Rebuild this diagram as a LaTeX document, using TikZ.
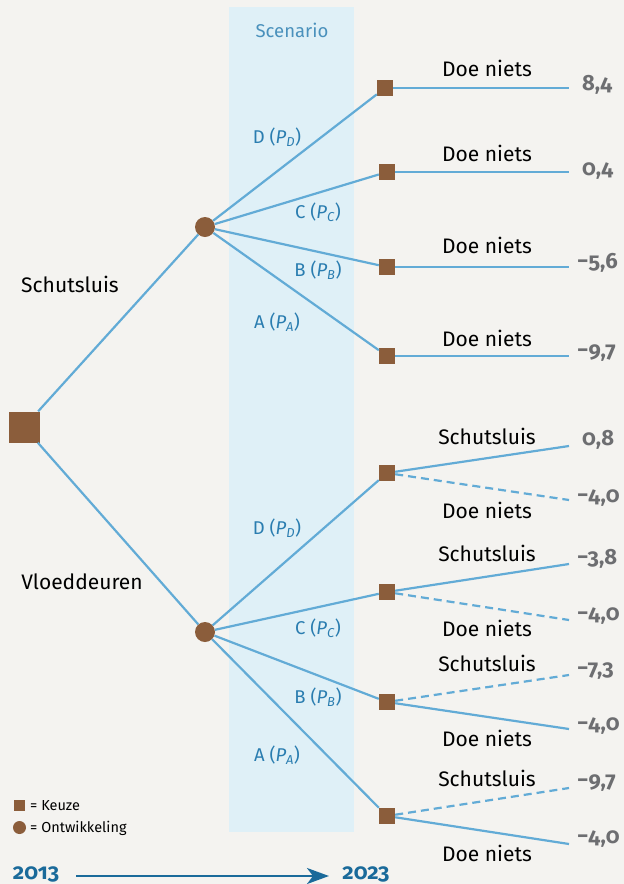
\documentclass[tikz,border=0pt]{standalone}
\usepackage{fontspec}
\newfontfamily\numfont[Numbers=OldStyle]{Fira Sans}
\newfontfamily\txtf{Fira Sans}
\usetikzlibrary{arrows.meta}
\definecolor{bgc}{HTML}{F4F3F0}
\definecolor{bandc}{HTML}{DFF0F7}
\definecolor{linec}{HTML}{62ABD6}
\definecolor{brownc}{HTML}{8B5D3B}
\definecolor{scenc}{HTML}{2A7DB0}
\definecolor{valc}{HTML}{6D6E71}
\definecolor{yearc}{HTML}{1A6A9A}
\newcommand{\onum}[1]{{\fontsize{22}{24}\selectfont\numfont\bfseries #1}}
\tikzset{
  keuze/.style={rectangle, fill=brownc, minimum size=16pt, inner sep=0pt},
  ontw/.style={circle, fill=brownc, minimum size=20pt, inner sep=0pt},
  branch/.style={draw=linec, line width=2.2pt},
  dashbranch/.style={branch, dash pattern=on 8pt off 5pt},
  opt/.style={font=\txtf\fontsize{21}{24}\selectfont, text=black, inner sep=0pt},
  val/.style={text=valc, anchor=base west, inner sep=0pt},
  scen/.style={font=\txtf\fontsize{18.5}{21}\selectfont, text=scenc, inner sep=0pt},
  legtext/.style={font=\txtf\fontsize{14.5}{17}\selectfont, text=black, anchor=west, inner sep=0pt},
  year/.style={text=yearc, inner sep=0pt}
}
\newcommand{\scl}[1]{#1~({\itshape P}\textsubscript{\itshape #1})}
\begin{document}
\begin{tikzpicture}[x=1pt, y=-1pt]
\fill[bgc] (0,0) rectangle (624,884);
\useasboundingbox (0,0) rectangle (624,884);
\fill[bandc] (229,7) rectangle (354,832);
\node[scen, text=scenc!85] (scenario) at (292,30) {Scenario};

% nodes
\node[keuze, minimum size=31pt] (root) at (24,427) {};
\node[ontw] (c1) at (205,227) {};
\node[ontw] (c2) at (205,632) {};

\node[keuze] (k1) at (385,88) {};
\node[keuze] (k2) at (387,172) {};
\node[keuze] (k3) at (387,267) {};
\node[keuze] (k4) at (387,356) {};
\node[keuze] (k5) at (387,473) {};
\node[keuze] (k6) at (387,592) {};
\node[keuze] (k7) at (387,702) {};
\node[keuze] (k8) at (387,816) {};

\coordinate (e1) at (569,88);
\coordinate (e2) at (569,172);
\coordinate (e3) at (569,267);
\coordinate (e4) at (569,356);
\coordinate (e5a) at (569,446);
\coordinate (e5b) at (569,500);
\coordinate (e6a) at (569,564);
\coordinate (e6b) at (569,620);
\coordinate (e7a) at (569,675);
\coordinate (e7b) at (569,729);
\coordinate (e8a) at (569,788);
\coordinate (e8b) at (569,844);

% connectors
\draw[branch] (root) -- (c1);
\draw[branch] (root) -- (c2);
\foreach \k in {k1,k2,k3,k4} \draw[branch] (c1) -- (\k);
\foreach \k in {k5,k6,k7,k8} \draw[branch] (c2) -- (\k);
\draw[branch] (k1) -- (e1);
\draw[branch] (k2) -- (e2);
\draw[branch] (k3) -- (e3);
\draw[branch] (k4) -- (e4);
\draw[branch] (k5) -- (e5a);
\draw[dashbranch] (k5) -- (e5b);
\draw[branch] (k6) -- (e6a);
\draw[dashbranch] (k6) -- (e6b);
\draw[dashbranch] (k7) -- (e7a);
\draw[branch] (k7) -- (e7b);
\draw[dashbranch] (k8) -- (e8a);
\draw[branch] (k8) -- (e8b);

% left labels
\node[opt] (lschut) at (70,284) {Schutsluis};
\node[opt] (lvloed) at (82,582) {Vloeddeuren};

% scenario labels
\node[scen] (sd1) at (277,137) {\scl{D}};
\node[scen] (sc1) at (318,212) {\scl{C}};
\node[scen] (sb1) at (318,270) {\scl{B}};
\node[scen] (sa1) at (277,322) {\scl{A}};
\node[scen] (sd2) at (277,528) {\scl{D}};
\node[scen] (sc2) at (318,628) {\scl{C}};
\node[scen] (sb2) at (318,697) {\scl{B}};
\node[scen] (sa2) at (277,755) {\scl{A}};

% option labels
\node[opt] (o1) at (487,68) {Doe niets};
\node[opt] (o2) at (487,153) {Doe niets};
\node[opt] (o3) at (487,245) {Doe niets};
\node[opt] (o4) at (487,338) {Doe niets};
\node[opt] (o5a) at (487,436) {Schutsluis};
\node[opt] (o5b) at (487,510) {Doe niets};
\node[opt] (o6a) at (487,553) {Schutsluis};
\node[opt] (o6b) at (487,628) {Doe niets};
\node[opt] (o7a) at (487,663) {Schutsluis};
\node[opt] (o7b) at (487,738) {Doe niets};
\node[opt] (o8a) at (487,778) {Schutsluis};
\node[opt] (o8b) at (487,853) {Doe niets};

% values
\node[val] (v1) at (582,90) {\onum{8,4}};
\node[val] (v2) at (582,175) {\onum{0,4}};
\node[val] (v3) at (577,268) {\onum{−5,6}};
\node[val] (v4) at (577,357) {\onum{−9,7}};
\node[val] (v5a) at (582,445) {\onum{0,8}};
\node[val] (v5b) at (577,502) {\onum{−4,0}};
\node[val] (v6a) at (577,564) {\onum{−3,8}};
\node[val] (v6b) at (577,620) {\onum{−4,0}};
\node[val] (v7a) at (577,675) {\onum{−7,3}};
\node[val] (v7b) at (577,730) {\onum{−4,0}};
\node[val] (v8a) at (577,787) {\onum{−9,7}};
\node[val] (v8b) at (577,843) {\onum{−4,0}};

% legend
\node[keuze, minimum size=11pt] (lk) at (19.5,805.5) {};
\node[legtext] (lkt) at (30,806) {= Keuze};
\node[ontw, minimum size=13pt] (lo) at (19.5,827.5) {};
\node[legtext] (lot) at (30,828) {= Ontwikkeling};

% timeline
\node[year] (y1) at (36,874) {\onum{2013}};
\node[year] (y2) at (366,874) {\onum{2023}};
\coordinate (as) at (76,876);
\coordinate (ae) at (329,876);
\draw[yearc, line width=2.2pt, -{Stealth[length=22pt, width=16pt, inset=6pt]}] (as) -- (ae);
\end{tikzpicture}
\end{document}
